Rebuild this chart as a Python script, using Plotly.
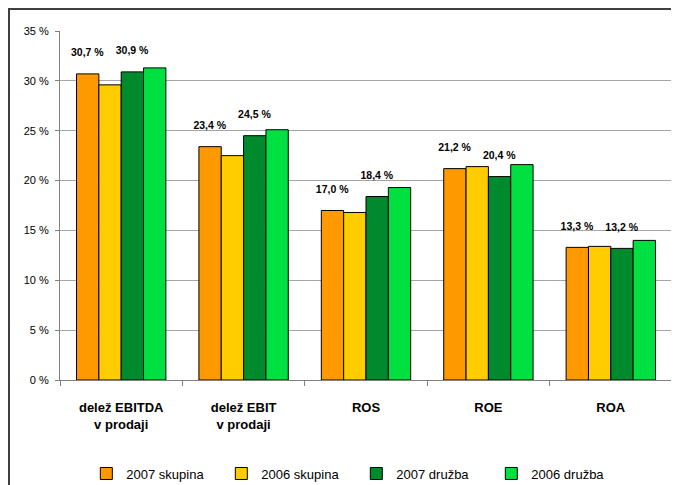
import plotly.graph_objects as go

categories = ["<b>delež EBITDA<br>v prodaji</b>", "<b>delež EBIT<br>v prodaji</b>", "<b>ROS</b>", "<b>ROE</b>", "<b>ROA</b>"]
series_names = ["2007 skupina", "2006 skupina", "2007 družba", "2006 družba"]
skupina_2007 = [30.7, 23.4, 17.0, 21.2, 13.3]
skupina_2006 = [29.6, 22.5, 16.8, 21.4, 13.4]
druzba_2007 = [30.9, 24.5, 18.4, 20.4, 13.2]
druzba_2006 = [31.3, 25.1, 19.3, 21.6, 14.0]
colors = ["#FF9900", "#FFCC00", "#008A2E", "#00E040"]
labelled = [True, False, True, False]

FONT = "Liberation Sans, Arial, sans-serif"

def fmt(v):
    return "<b>" + f"{v:.1f}".replace(".", ",") + " %</b><br><span style='font-size:7px'> </span>"

fig = go.Figure()
for name, vals, col, lab in zip(series_names, [skupina_2007, skupina_2006, druzba_2007, druzba_2006], colors, labelled):
    fig.add_trace(go.Bar(
        name=name, x=categories, y=vals,
        marker=dict(color=col, line=dict(color="#000000", width=1)),
        text=[fmt(v) for v in vals] if lab else None,
        textposition="outside" if lab else "none",
        constraintext="none",
        textfont=dict(family=FONT, size=10.5, color="#000000"),
        cliponaxis=False,
        hoverinfo="skip",
    ))

# page body has an ~8px margin, so the figure is sized/placed to compensate
fig.update_layout(
    width=671, height=477,
    margin=dict(l=52, r=7, t=23, b=105, autoexpand=False),
    paper_bgcolor="white", plot_bgcolor="white",
    barmode="group", bargap=0.27, bargroupgap=0,
    showlegend=True,
    legend=dict(orientation="h", x=0.043, xanchor="left", y=-0.225, yanchor="top",
                font=dict(family=FONT, size=13, color="#000000"),
                entrywidth=90, entrywidthmode="pixels", itemwidth=30,
                traceorder="normal"),
    font=dict(family=FONT, color="#000000"),
)
fig.update_yaxes(range=[0, 35], dtick=5, ticksuffix=" %", ticks="outside", ticklen=4,
                 tickcolor="#808080", showgrid=True, gridcolor="#A6A6A6", gridwidth=1,
                 showline=True, linecolor="#808080", linewidth=1, automargin=False,
                 ticklabelstandoff=4,
                 tickfont=dict(family=FONT, size=11, color="#000000"), zeroline=False)
fig.update_xaxes(type="category", tickson="boundaries", ticks="outside", ticklen=5,
                 tickcolor="#808080", showline=True, linecolor="#808080", linewidth=1,
                 showgrid=False, ticklabelstandoff=15, automargin=False,
                 tickfont=dict(family=FONT, size=13, color="#000000"))

# outer chart frame
fig.add_shape(type="rect", xref="paper", yref="paper",
              x0=-51/612, x1=1.3, y0=-0.8, y1=1 + 22/349,
              line=dict(color="#404040", width=2), fillcolor="rgba(0,0,0,0)")

fig.write_html("out.html")
